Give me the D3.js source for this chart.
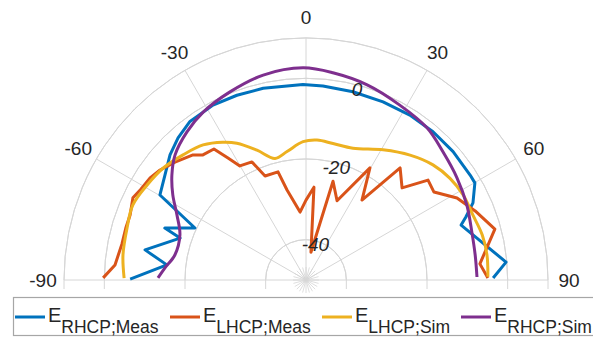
<!DOCTYPE html>
<html>
<head>
<meta charset="utf-8">
<style>
  body { margin: 0; background: white; }
  svg { display: block; }
  text { font-family: "Liberation Sans", Arial, Helvetica, sans-serif; fill: #262626; }
</style>
</head>
<body>
<svg id="chart" width="593" height="339"></svg>
<script src="https://cdn.jsdelivr.net/npm/d3@7"></script>
<script>
// angles in degrees (0 = top), values in dB
const thetaTicks = [-90, -60, -30, 0, 30, 60, 90];
const rTicks = [-40, -20, 0];
const rLim = [-50, 10];

const rhcpMeasTheta = [-89.7, -83.8, -79.4, -71.6, -69.8, -64.9, -59.8, -53.3, -47.4, -42, -36.2, -28, -20.5, -12.6, -0.9, 5, 14, 23.4, 32.2, 40.6, 48.9, 57.4, 60.1, 65.2, 68.5, 70.5, 84.9, 89.4];
const rhcpMeas = [-6.4, -15.3, -9.4, -17.1, -12.7, -19.6, -8.1, -6.4, -4.2, -2.6, -1.3, -0.9, -1.1, -1.3, -1.5, -1.7, -1.9, -1.9, -1.7, -1.6, -1.6, -1.7, -1.7, -4.4, -7.4, -9.2, -0.2, -3.6];

const lhcpMeasTheta = [-89.4, -85.5, -78.9, -73.9, -69.7, -64.6, -61.1, -56.8, -53, -48, -42.1, -39.5, -35.1, -32.6, -30.1, -24.6, -21.5, -14.5, -11.9, -5, 0, 4.9, 10.1, 15.3, 21.4, 29.7, 35, 40, 46.2, 50.7, 55.5, 61.5, 67.8, 74.9, 84.7, 89.4];
const lhcpMeas = [0.3, -2.5, -3.5, -3.5, -3.5, -2.5, -3.3, -3.8, -4.7, -6.3, -8.2, -9.8, -10.3, -14.1, -17.3, -17.8, -22.3, -22.3, -27.2, -33.1, -30.2, -26.9, -43, -24.6, -28.9, -18, -25.8, -13.7, -17, -10.9, -11.5, -7.4, -4.7, -1.5, -6.7, -4.9];

const lhcpSimTheta = [-89.4, -82.2, -73.8, -66.6, -59.1, -52, -44.5, -37.3, -31.1, -26.8, -20.7, -14.3, -8.4, -1.2, 4.5, 11.2, 19.6, 30.6, 39.8, 47.8, 54.8, 61.6, 68.7, 75.7, 82.1, 89];
const lhcpSim = [-4.9, -4.2, -3.8, -3.2, -4.1, -5, -6.5, -7.9, -10.1, -12, -15.6, -18.9, -17.8, -15.7, -15.2, -15.5, -15.3, -12.5, -9.7, -7.5, -6.3, -5.7, -5.6, -4.9, -4.7, -4.9];

const rhcpSimTheta = [-89.2, -85.1, -79.2, -70.3, -63.3, -57.4, -52, -46.3, -38.8, -31.5, -22, -11.8, -0.8, 7.4, 17.4, 28.2, 38.5, 46.9, 55.9, 65, 73.9, 81.6, 89];
const rhcpSim = [-13.3, -14.9, -16.9, -16.8, -14.2, -10.8, -7.8, -5.1, -2.9, -1.2, 0.3, 1.9, 2.6, 1.8, 0.7, -0.8, -1.8, -3.5, -4.8, -6, -7.2, -7.6, -7.6];

const seriesNames = ["RHCP;Meas", "LHCP;Meas", "LHCP;Sim", "RHCP;Sim"];
const colors = ["#0072BD", "#D95319", "#EDB120", "#7E2F8E"];

const series = [
  { name: seriesNames[0], theta: rhcpMeasTheta, val: rhcpMeas, smooth: false },
  { name: seriesNames[1], theta: lhcpMeasTheta, val: lhcpMeas, smooth: false },
  { name: seriesNames[2], theta: lhcpSimTheta, val: lhcpSim, smooth: true },
  { name: seriesNames[3], theta: rhcpSimTheta, val: rhcpSim, smooth: true }
];

const cx = 306, cy = 280, R = 242;
const svg = d3.select("#chart");
const g = svg.append("g").attr("transform", `translate(${cx},${cy})`);

const r = d3.scaleLinear().domain(rLim).range([0, R]);
const rad = d => d * Math.PI / 180;
const grid = "#d6d6d6";

// rings
const arc = d3.arc().startAngle(rad(-90)).endAngle(rad(90));
[...rTicks, rLim[1]].forEach(v => {
  g.append("path")
    .attr("d", arc({ innerRadius: r(v), outerRadius: r(v) }))
    .attr("fill", "none").attr("stroke", grid).attr("stroke-width", 1);
  // little stubs below the baseline
  [-1, 1].forEach(s => {
    g.append("line")
      .attr("x1", s * r(v)).attr("x2", s * r(v))
      .attr("y1", 0).attr("y2", 9)
      .attr("stroke", grid);
  });
});

// spokes
thetaTicks.forEach(t => {
  g.append("line")
    .attr("x1", 0).attr("y1", 0)
    .attr("x2", R * Math.sin(rad(t))).attr("y2", -R * Math.cos(rad(t)))
    .attr("stroke", grid).attr("stroke-width", 1);
});
// small star at the center
d3.range(-180, 180, 15).forEach(t => {
  g.append("line")
    .attr("x1", 0).attr("y1", 0)
    .attr("x2", 13 * Math.sin(rad(t))).attr("y2", -13 * Math.cos(rad(t)))
    .attr("stroke", grid).attr("stroke-width", 0.8);
});

// theta labels
thetaTicks.forEach(t => {
  const rr = R + 21;
  g.append("text")
    .attr("x", rr * Math.sin(rad(t)))
    .attr("y", -rr * Math.cos(rad(t)))
    .attr("text-anchor", "middle")
    .attr("dominant-baseline", "central")
    .attr("font-size", 19)
    .text(t);
});

// curves
series.forEach((s, i) => {
  const pts = s.theta.map((t, k) => [rad(t), r(s.val[k])]);
  const line = d3.lineRadial().angle(d => d[0]).radius(d => d[1])
    .curve(s.smooth ? d3.curveCatmullRom : d3.curveLinear);
  g.append("path")
    .attr("d", line(pts))
    .attr("fill", "none")
    .attr("stroke", colors[i])
    .attr("stroke-width", 3)
    .attr("stroke-linejoin", "round");
});

// radial labels
rTicks.forEach(v => {
  const rr = r(v) - 4, t = rad(15);
  g.append("text")
    .attr("x", rr * Math.sin(t))
    .attr("y", -rr * Math.cos(t))
    .attr("text-anchor", "middle")
    .attr("dominant-baseline", "central")
    .attr("font-size", 19)
    .attr("font-style", "italic")
    .text(v);
});

// legend
const leg = svg.append("g");
leg.append("rect")
  .attr("x", 13.5).attr("y", 297.5)
  .attr("width", 600).attr("height", 38)
  .attr("fill", "white").attr("stroke", "#a6a6a6").attr("stroke-width", 1.2);
const legX = [15, 170, 322, 461];
series.forEach((s, i) => {
  const x = legX[i];
  leg.append("line")
    .attr("x1", x).attr("x2", x + 30)
    .attr("y1", 317).attr("y2", 317)
    .attr("stroke", colors[i]).attr("stroke-width", 3);
  const t = leg.append("text").attr("x", x + 33).attr("y", 322);
  t.append("tspan").attr("font-size", 20).text("E");
  t.append("tspan").attr("font-size", 17.5).attr("dy", 11).text(s.name);
});
</script>
</body>
</html>
